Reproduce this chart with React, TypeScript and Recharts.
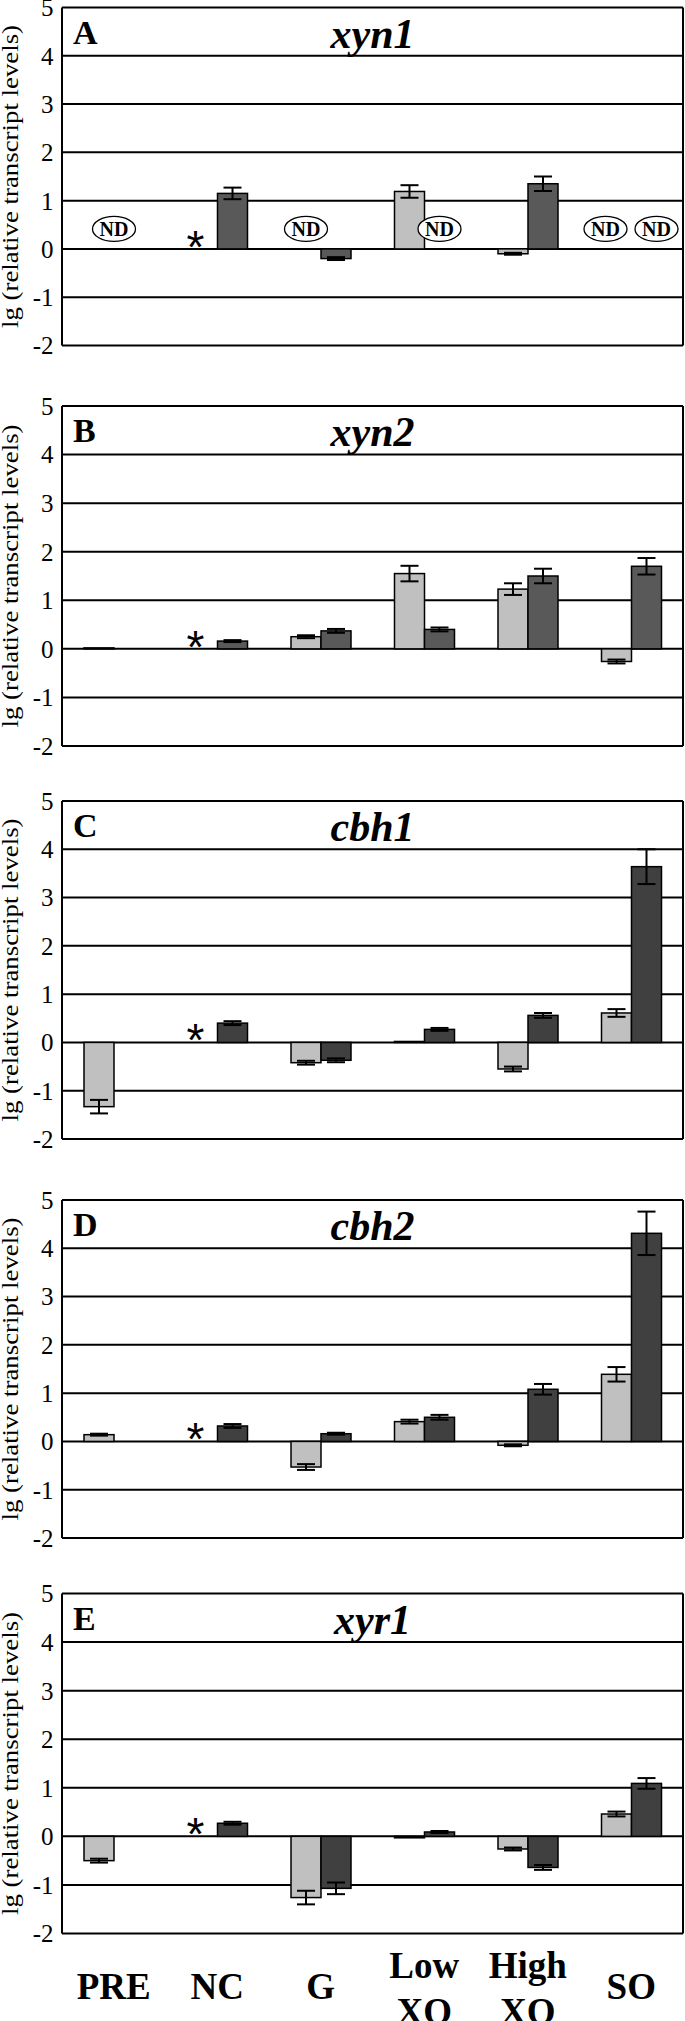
import { BarChart, Bar, XAxis, YAxis, CartesianGrid, ErrorBar, ReferenceLine } from 'recharts';

const categories = ['PRE', 'NC', 'G', 'Low XO', 'High XO', 'SO'];
const yTicks = [-2, -1, 0, 1, 2, 3, 4, 5];

// A - xyn1
const xyn1Light = [0, 0, 0, 1.19, -0.1, 0];
const xyn1LightErr = [null, null, null, 0.13, 0.02, null];
const xyn1LightMark = ['ND', '*', 'ND', '', '', 'ND'];
const xyn1Dark = [null, 1.15, -0.2, 0, 1.35, 0];
const xyn1DarkErr = [null, 0.12, 0.03, null, 0.15, null];
const xyn1DarkMark = ['', '', '', 'ND', '', 'ND'];

// B - xyn2
const xyn2Light = [0.02, 0, 0.25, 1.55, 1.23, -0.26];
const xyn2LightErr = [null, null, 0.03, 0.16, 0.12, 0.04];
const xyn2LightMark = ['', '*', '', '', '', ''];
const xyn2Dark = [null, 0.16, 0.37, 0.4, 1.5, 1.7];
const xyn2DarkErr = [null, 0.02, 0.04, 0.04, 0.15, 0.17];

// C - cbh1
const cbh1Light = [-1.33, 0, -0.42, 0.02, -0.55, 0.61];
const cbh1LightErr = [0.14, null, 0.04, null, 0.05, 0.08];
const cbh1LightMark = ['', '*', '', '', '', ''];
const cbh1Dark = [null, 0.4, -0.37, 0.27, 0.56, 3.64];
const cbh1DarkErr = [null, 0.04, 0.04, 0.03, 0.05, 0.36];

// D - cbh2
const cbh2Light = [0.14, 0, -0.53, 0.41, -0.08, 1.39];
const cbh2LightErr = [0.02, null, 0.06, 0.04, 0.02, 0.15];
const cbh2LightMark = ['', '*', '', '', '', ''];
const cbh2Dark = [null, 0.32, 0.16, 0.5, 1.08, 4.31];
const cbh2DarkErr = [null, 0.04, 0.02, 0.05, 0.11, 0.45];

// E - xyr1
const xyr1Light = [-0.5, 0, -1.26, -0.03, -0.26, 0.46];
const xyr1LightErr = [0.04, null, 0.14, null, 0.03, 0.05];
const xyr1LightMark = ['', '*', '', '', '', ''];
const xyr1Dark = [null, 0.27, -1.07, 0.09, -0.64, 1.09];
const xyr1DarkErr = [null, 0.03, 0.12, 0.02, 0.05, 0.11];

const noMarks = ['', '', '', '', '', ''];

const SERIF = '"Liberation Serif", "Times New Roman", serif';

const panels = [
  { letter: 'A', gene: 'xyn1', darkColor: '#595959', light: xyn1Light, lightErr: xyn1LightErr, lightMark: xyn1LightMark, dark: xyn1Dark, darkErr: xyn1DarkErr, darkMark: xyn1DarkMark, top: 0, height: 396, plotTop: 7.5, plotH: 338 },
  { letter: 'B', gene: 'xyn2', darkColor: '#595959', light: xyn2Light, lightErr: xyn2LightErr, lightMark: xyn2LightMark, dark: xyn2Dark, darkErr: xyn2DarkErr, darkMark: noMarks, top: 396, height: 396, plotTop: 10, plotH: 340 },
  { letter: 'C', gene: 'cbh1', darkColor: '#404040', light: cbh1Light, lightErr: cbh1LightErr, lightMark: cbh1LightMark, dark: cbh1Dark, darkErr: cbh1DarkErr, darkMark: noMarks, top: 792, height: 398, plotTop: 9, plotH: 338 },
  { letter: 'D', gene: 'cbh2', darkColor: '#404040', light: cbh2Light, lightErr: cbh2LightErr, lightMark: cbh2LightMark, dark: cbh2Dark, darkErr: cbh2DarkErr, darkMark: noMarks, top: 1190, height: 394, plotTop: 10, plotH: 338 },
  { letter: 'E', gene: 'xyr1', darkColor: '#404040', light: xyr1Light, lightErr: xyr1LightErr, lightMark: xyr1LightMark, dark: xyr1Dark, darkErr: xyr1DarkErr, darkMark: noMarks, top: 1584, height: 437, plotTop: 9.5, plotH: 340 },
];

// bar shape: outlined rect, plus the ND oval / reference asterisk on zero-height bars
const makeShape = (side: 'light' | 'dark') => (props: any) => {
  const { x, y, width, height, fill, payload } = props;
  if (x == null || y == null || width == null) return <g />;
  const h = height || 0;
  const top = h < 0 ? y + h : y;
  const rh = Math.abs(h);
  const mark = payload ? payload[side + 'Mark'] : '';
  const other = side === 'light' ? 'dark' : 'light';
  let cx = x + width / 2;
  if (mark === 'ND' && payload) {
    // lone series in the group -> centre the oval; two ovals side by side -> spread them
    if (payload[other] == null) cx += side === 'light' ? width / 2 : -width / 2;
    else if (payload[other + 'Mark'] === 'ND') cx += side === 'light' ? -11 : 10;
  }
  return (
    <g>
      {rh > 0.01 && <rect x={x} y={top} width={width} height={rh} fill={fill} stroke="#000" strokeWidth={1.5} />}
      {mark === 'ND' && (
        <g>
          <ellipse cx={cx} cy={y - 20} rx={21.5} ry={12.5} fill="#fff" stroke="#000" strokeWidth={1.3} />
          <text x={cx} y={y - 13} textAnchor="middle" fontFamily={SERIF} fontWeight="bold" fontSize={20} fill="#000">ND</text>
        </g>
      )}
      {mark === '*' && (
        <text x={cx - 7} y={y + 14} textAnchor="middle" fontFamily='"Liberation Sans", Arial, sans-serif' fontSize={46} fill="#000">*</text>
      )}
    </g>
  );
};

const lightShape = makeShape('light');
const darkShape = makeShape('dark');

const CategoryTick = (props: any) => {
  const { x, y, payload } = props;
  const words = String(payload.value).split(' ');
  const style = { fontFamily: SERIF, fontWeight: 'bold' as const, fontSize: 37, fill: '#000' };
  if (words.length === 1) {
    return <text x={x} y={y + 65.5} textAnchor="middle" {...style}>{words[0]}</text>;
  }
  return (
    <text textAnchor="middle" {...style}>
      <tspan x={x} y={y + 44.5}>{words[0]}</tspan>
      <tspan x={x} y={y + 90.5}>{words[1]}</tspan>
    </text>
  );
};

function Panel({ p, showX }: { p: any; showX: boolean }) {
  const data = categories.map((name, i) => ({
    name,
    light: p.light[i],
    lightErr: p.lightErr[i],
    lightMark: p.lightMark[i],
    dark: p.dark[i],
    darkErr: p.darkErr[i],
    darkMark: p.darkMark[i],
  }));
  const xH = showX ? p.height - p.plotTop - p.plotH : 0;
  return (
    <div style={{ position: 'absolute', left: 0, top: p.top }}>
      <BarChart
        width={685}
        height={p.height}
        data={data}
        margin={{ top: p.plotTop, right: 2, bottom: showX ? 0 : p.height - p.plotTop - p.plotH, left: 0 }}
        barCategoryGap={22}
        barGap={0}
      >
        <CartesianGrid
          stroke="#000"
          strokeWidth={2}
          verticalCoordinatesGenerator={({ offset }: any) => [offset.left, offset.left + offset.width]}
        />
        <XAxis
          dataKey="name"
          hide={!showX}
          height={xH}
          axisLine={false}
          tickLine={false}
          tickSize={0}
          tickMargin={0}
          interval={0}
          tick={<CategoryTick />}
        />
        <YAxis
          type="number"
          domain={[-2, 5]}
          ticks={yTicks}
          width={62}
          axisLine={false}
          tickLine={false}
          tickSize={0}
          tickMargin={8.5}
          interval={0}
          tick={{ fill: '#000', fontSize: 25, fontFamily: SERIF }}
          label={{
            content: (lp: any) => {
              const vb = lp.viewBox || {};
              const cy = (vb.y || 0) + (vb.height || 0) / 2;
              return (
                <text
                  x={18}
                  y={cy}
                  transform={`rotate(-90 18 ${cy})`}
                  textAnchor="middle"
                  fontFamily={SERIF}
                  fontSize={24}
                  fill="#000"
                  textLength={303}
                  lengthAdjust="spacingAndGlyphs"
                >
                  lg (relative transcript levels)
                </text>
              );
            },
          }}
        />
        <ReferenceLine
          y={5}
          stroke="none"
          label={{
            content: (lp: any) => {
              const vb = lp.viewBox || {};
              const x0 = vb.x || 0;
              const y0 = vb.y || 0;
              const w = vb.width || 0;
              return (
                <g>
                  <text x={x0 + 11} y={y0 + 36} fontFamily={SERIF} fontWeight="bold" fontSize={34} fill="#000">{p.letter}</text>
                  <text x={x0 + w / 2} y={y0 + 40} textAnchor="middle" fontFamily={SERIF} fontWeight="bold" fontStyle="italic" fontSize={42} fill="#000">{p.gene}</text>
                </g>
              );
            },
          }}
        />
        <Bar dataKey="light" fill="#c0c0c0" shape={lightShape} isAnimationActive={false}>
          <ErrorBar dataKey="lightErr" width={9} stroke="#000" strokeWidth={2} />
        </Bar>
        <Bar dataKey="dark" fill={p.darkColor} shape={darkShape} isAnimationActive={false}>
          <ErrorBar dataKey="darkErr" width={9} stroke="#000" strokeWidth={2} />
        </Bar>
      </BarChart>
    </div>
  );
}

export default function App() {
  return (
    <div style={{ position: 'relative', width: 685, height: 2021, background: '#fff' }}>
      <style>{'body{margin:0}'}</style>
      {panels.map((p, i) => (
        <Panel key={p.letter} p={p} showX={i === panels.length - 1} />
      ))}
    </div>
  );
}
